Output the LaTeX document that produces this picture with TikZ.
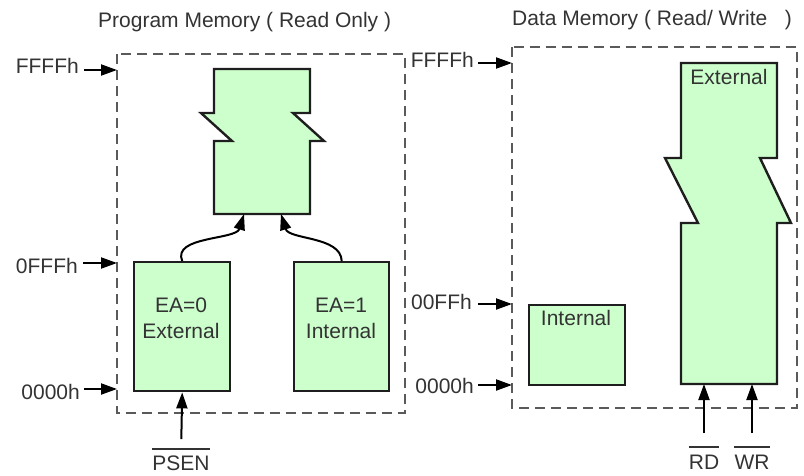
\documentclass[tikz,border=0pt]{standalone}
\usepackage{fontspec}
\setmainfont{Liberation Sans}
\usetikzlibrary{arrows.meta}
\definecolor{memfill}{HTML}{CCFFCC}
\definecolor{edgeink}{HTML}{1E1E1E}
\definecolor{txtink}{HTML}{333333}
\definecolor{frameink}{HTML}{5A5A5A}

\begin{document}
\begin{tikzpicture}[x=1pt,y=-1pt,
  lbl/.style={font=\fontsize{21}{25}\selectfont, text=txtink, inner sep=0pt},
  membox/.style={draw=edgeink, fill=memfill, line width=2.4pt, line join=miter},
  region/.style={draw=frameink, line width=1.6pt, dash pattern=on 10pt off 6pt},
  addr/.style={-{Triangle[length=16pt,width=11pt]}, line width=2pt, draw=black},
  barline/.style={line width=2pt, draw=txtink}
]
\useasboundingbox (0,0) rectangle (804,475);

% titles
\node[lbl, anchor=base west] (ptitle) at (98,27) {Program Memory ( Read Only )};
\node[lbl, anchor=base west] (dtitle) at (512,25) {Data Memory ( Read/ Write\ \ \ )};

% dashed memory regions
\draw[region] (117,54) rectangle (405,413);
\draw[region] (512,47) rectangle (797,408);

% ---------- program memory ----------
% upper part of the 64K program space (broken outline)
\draw[membox] (214,69) -- (310,69) -- (310,113) -- (293,113) -- (324,141)
  -- (310,141) -- (310,214) -- (214,214) -- (214,141) -- (232,141)
  -- (201,113) -- (214,113) -- cycle;
\coordinate (inA) at (244,214);
\coordinate (inB) at (281,214);

\node[membox, anchor=north west, minimum width=96pt, minimum height=129pt] (ea0) at (133,261) {};
\node[membox, anchor=north west, minimum width=95pt, minimum height=129pt] (ea1) at (293,261) {};
\node[lbl, anchor=base] (ea0a) at (181,312) {EA=0};
\node[lbl, anchor=base] (ea0b) at (181,338) {External};
\node[lbl, anchor=base] (ea1a) at (341,312) {EA=1};
\node[lbl, anchor=base] (ea1b) at (341,338) {Internal};

\draw[addr] (ea0.north) .. controls (172,236) and (236,240) .. (inA);
\draw[addr] (ea1.north) .. controls (341,236) and (289,240) .. (inB);

% address marks
\coordinate (pF) at (117,70);
\coordinate (p0F) at (117,263);
\coordinate (p00) at (117,389);
\node[lbl, anchor=base east] (lF) at (79,73) {FFFFh};
\node[lbl, anchor=base east] (l0F) at (78,273) {0FFFh};
\node[lbl, anchor=base east] (l00) at (80,399) {0000h};
\draw[addr, shorten <=5pt] (lF.east |- pF) -- (pF);
\draw[addr, shorten <=5pt] (l0F.east |- p0F) -- (p0F);
\draw[addr, shorten <=4pt] (l00.east |- p00) -- (p00);

% PSEN strobe
\node[lbl, anchor=base] (psen) at (181,470) {PSEN};
\draw[barline] ([yshift=6pt]psen.north west) -- ([yshift=6pt]psen.north east);
\draw[addr, shorten <=16pt] (psen.north) -- (ea0.south);

% ---------- data memory ----------
\draw[membox] (681,63) -- (777,63) -- (777,158) -- (760,158) -- (791,223)
  -- (777,223) -- (777,384) -- (681,384) -- (681,223) -- (698,223)
  -- (665,158) -- (681,158) -- cycle;
\coordinate (extRD) at (704,384);
\coordinate (extWR) at (752,384);
\node[lbl, anchor=base] (exttxt) at (729,84) {External};

\node[membox, anchor=north west, minimum width=96pt, minimum height=80pt] (intram) at (528,304) {};
\node[lbl, anchor=base] (inttxt) at (576,325) {Internal};

\coordinate (dF) at (512,63);
\coordinate (dFF) at (512,304);
\coordinate (d00) at (512,385);
\node[lbl, anchor=base east] (rF) at (474,67) {FFFFh};
\node[lbl, anchor=base east] (rFF) at (472,309) {00FFh};
\node[lbl, anchor=base east] (r00) at (474,393) {0000h};
\draw[addr, shorten <=4pt] (rF.east |- dF) -- (dF);
\draw[addr, shorten <=6pt] (rFF.east |- dFF) -- (dFF);
\draw[addr, shorten <=4pt] (r00.east |- d00) -- (d00);

% read / write strobes
\node[lbl, anchor=base] (rd) at (704,469) {RD};
\node[lbl, anchor=base] (wr) at (752,469) {WR};
\draw[barline] ([yshift=7pt]rd.north west) -- ([yshift=7pt]rd.north east);
\draw[barline] ([yshift=7pt]wr.north west) -- ([yshift=7pt]wr.north east);
\draw[addr, shorten <=21pt] (rd.north) -- (extRD);
\draw[addr, shorten <=21pt] (wr.north) -- (extWR);
\end{tikzpicture}
\end{document}
